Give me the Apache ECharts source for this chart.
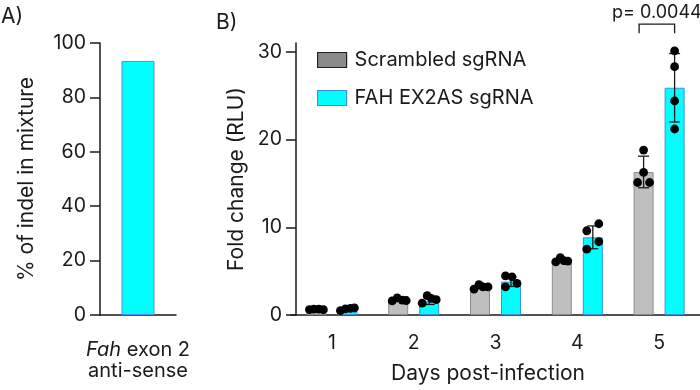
<!DOCTYPE html>
<html><head><meta charset="utf-8">
<script src="https://cdn.jsdelivr.net/npm/echarts@6/dist/echarts.min.js"></script>
<style>html,body{margin:0;padding:0;background:#fff}#c{width:700px;height:390px}</style>
</head><body><div id="c"></div>
<script>
// ---------- data ----------
const panelACategories = ['Fah exon 2 anti-sense'];
const panelAValues = [93.4];
const panelAYTicks = [0, 20, 40, 60, 80, 100];

const days = ['1', '2', '3', '4', '5'];
const panelBYTicks = [0, 10, 20, 30];
const seriesNames = ['Scrambled sgRNA', 'FAH EX2AS sgRNA'];

const scrambledMean = [0.62, 1.7, 3.2, 6.25, 16.3];
const scrambledSD = [0.06, 0.15, 0.2, 0.22, 1.8];
const fahMean = [0.62, 1.55, 3.8, 8.85, 25.9];
const fahSD = [0.12, 0.35, 0.55, 1.3, 3.9];

const scrambledPoints = [
  [0.62, 0.68, 0.66, 0.6],
  [1.6, 1.95, 1.7, 1.65],
  [2.95, 3.45, 3.2, 3.2],
  [6.05, 6.55, 6.2, 6.15],
  [18.8, 16.25, 15.1, 15.1]
];
const fahPoints = [
  [0.5, 0.7, 0.75, 0.8],
  [1.35, 2.2, 1.9, 1.75],
  [3.2, 4.45, 4.35, 3.6],
  [9.6, 10.4, 8.35, 7.5],
  [30.1, 28.3, 24.4, 21.2]
];

const pValueLabel = 'p= 0.0044';
const pValueDay = '5';
const pBracketValue = 33.15;
const pBracketLegValue = 32.1;

// ---------- layout / style ----------
const FONT = 'Inter, "Liberation Sans", Arial, sans-serif';
const INK = '#1a1a1a';
const BAR_W = 20, BAR_GAP = 11;
const OFF = (BAR_W + BAR_GAP) / 2;
const scrambledJitter = [[-7,-2.5,2.5,7],[-6,-1,4,8],[-6,-1,3,8],[-6,-1.5,2,6],[0,0,-6,6]];
const fahJitter = [[-7,-2,3,7],[-7,-2,2,7],[-5.5,-5.5,1,6],[-6,6,6,-6],[0,0,0,0]];

function errorSeries(means, sds, side) {
  return {
    type: 'custom', xAxisIndex: 1, yAxisIndex: 1, z: 4, silent: true, clip: false,
    data: means.map((m, i) => [i, m - sds[i], m + sds[i]]),
    renderItem(params, api) {
      const lo = api.coord([api.value(0), api.value(1)]);
      const hi = api.coord([api.value(0), api.value(2)]);
      const x = lo[0] + side * OFF;
      const cw = 5.5;
      const st = { stroke: INK, lineWidth: 1.3 };
      return { type: 'group', children: [
        { type: 'line', shape: { x1: x, y1: lo[1], x2: x, y2: hi[1] }, style: st },
        { type: 'line', shape: { x1: x - cw, y1: lo[1], x2: x + cw, y2: lo[1] }, style: st },
        { type: 'line', shape: { x1: x - cw, y1: hi[1], x2: x + cw, y2: hi[1] }, style: st }
      ]};
    }
  };
}

function pointSeries(pts, side, jit) {
  const data = [];
  pts.forEach((arr, d) => arr.forEach((v, k) => data.push([d, v, k])));
  return {
    type: 'custom', xAxisIndex: 1, yAxisIndex: 1, z: 5, silent: true, clip: false,
    data,
    renderItem(params, api) {
      const d = api.value(0), k = api.value(2);
      const p = api.coord([d, api.value(1)]);
      return { type: 'circle', shape: { cx: p[0] + side * OFF + jit[d][k], cy: p[1], r: 4.4 }, style: { fill: '#000' } };
    }
  };
}

const axisLineStyle = { color: INK, width: 1.5 };

const option = {
  animation: false,
  backgroundColor: '#fff',
  textStyle: { fontFamily: FONT },
  graphic: [
    { type: 'text', left: 1, top: 6, style: { text: 'A)', fontSize: 21, fontFamily: FONT, fill: INK } },
    { type: 'text', left: 216, top: 12, style: { text: 'B)', fontSize: 21, fontFamily: FONT, fill: INK } }
  ],
  legend: {
    orient: 'vertical', left: 317, top: 50, padding: 0, itemWidth: 29, itemHeight: 15, itemGap: 18,
    icon: 'rect', selectedMode: false,
    textStyle: { fontSize: 20, fontFamily: FONT, color: INK, padding: [0, 0, 0, 3] },
    data: [
      { name: seriesNames[0], itemStyle: { color: '#8a8a8a', borderColor: '#222', borderWidth: 1.2 } },
      { name: seriesNames[1], itemStyle: { color: '#00ffff', borderColor: '#3d8fe0', borderWidth: 1.2 } }
    ]
  },
  grid: [
    { left: 100, top: 43, width: 76, height: 272 },
    { left: 291, top: 43, width: 410, height: 272 }
  ],
  xAxis: [
    {
      type: 'category', gridIndex: 0, data: panelACategories,
      axisLine: { lineStyle: axisLineStyle },
      axisTick: { alignWithLabel: true, length: 10, lineStyle: axisLineStyle },
      axisLabel: {
        margin: 24, color: INK, fontSize: 20, fontFamily: FONT, lineHeight: 21,
        formatter: () => '{i|Fah} exon 2\nanti-sense',
        rich: { i: { fontStyle: 'italic', fontSize: 20, fontFamily: FONT, color: INK } }
      }
    },
    {
      type: 'category', gridIndex: 1, data: days,
      name: 'Days post-infection', nameLocation: 'middle', nameGap: 48,
      nameTextStyle: { fontSize: 21, fontFamily: FONT, color: INK, padding: [0, 15, 0, 0] },
      axisLine: { lineStyle: axisLineStyle },
      axisTick: { alignWithLabel: true, length: 10, lineStyle: axisLineStyle },
      axisLabel: { margin: 18, color: INK, fontSize: 19.5, fontFamily: FONT }
    }
  ],
  yAxis: [
    {
      type: 'value', gridIndex: 0, min: 0, max: 100, interval: 20,
      name: '% of indel in mixture', nameLocation: 'middle', nameGap: 63,
      nameTextStyle: { fontSize: 21, fontFamily: FONT, color: INK },
      axisLine: { show: true, lineStyle: axisLineStyle },
      axisTick: { show: true, length: 10, lineStyle: axisLineStyle, customValues: panelAYTicks },
      axisLabel: { margin: 14, color: INK, fontSize: 19.5, fontFamily: FONT, customValues: panelAYTicks },
      splitLine: { show: false }
    },
    {
      type: 'value', gridIndex: 1, min: 0, max: 31, interval: 10, offset: -5,
      name: 'Fold change (RLU)', nameLocation: 'middle', nameGap: 47,
      nameTextStyle: { fontSize: 21, fontFamily: FONT, color: INK },
      axisLine: { show: true, lineStyle: axisLineStyle },
      axisTick: { show: true, length: 10, lineStyle: axisLineStyle, customValues: panelBYTicks },
      axisLabel: { margin: 14, color: INK, fontSize: 19.5, fontFamily: FONT, customValues: panelBYTicks },
      splitLine: { show: false }
    }
  ],
  series: [
    {
      type: 'bar', xAxisIndex: 0, yAxisIndex: 0, data: panelAValues, barWidth: 33,
      itemStyle: { color: '#00ffff', borderColor: '#4a8ff0', borderWidth: 1 }, silent: true
    },
    {
      type: 'bar', name: seriesNames[0], xAxisIndex: 1, yAxisIndex: 1, data: scrambledMean,
      barWidth: BAR_W, barGap: (BAR_GAP / BAR_W * 100) + '%', z: 2, silent: true,
      itemStyle: { color: '#bfbfbf', borderColor: '#8c8c8c', borderWidth: 1 }
    },
    {
      type: 'bar', name: seriesNames[1], xAxisIndex: 1, yAxisIndex: 1, data: fahMean,
      barWidth: BAR_W, barGap: (BAR_GAP / BAR_W * 100) + '%', z: 2, silent: true,
      itemStyle: { color: '#00ffff', borderColor: '#3d8fe0', borderWidth: 1 }
    },
    errorSeries(scrambledMean, scrambledSD, -1),
    errorSeries(fahMean, fahSD, 1),
    pointSeries(scrambledPoints, -1, scrambledJitter),
    pointSeries(fahPoints, 1, fahJitter),
    {
      type: 'custom', xAxisIndex: 1, yAxisIndex: 1, z: 6, silent: true, clip: false,
      data: [[days.indexOf(pValueDay), pBracketValue, pBracketLegValue]],
      renderItem(params, api) {
        const c = api.coord([api.value(0), api.value(1)]);
        const legY = api.coord([api.value(0), api.value(2)])[1];
        const xl = c[0] - OFF - 4.5, xr = c[0] + OFF;
        return { type: 'group', children: [
          { type: 'polyline', shape: { points: [[xl, legY], [xl, c[1]], [xr, c[1]], [xr, legY]] },
            style: { stroke: INK, lineWidth: 1.3, fill: null } },
          { type: 'text', style: { text: pValueLabel, x: (xl + xr) / 2, y: c[1] - 3, align: 'center',
            verticalAlign: 'bottom', fontSize: 18, fontFamily: FONT, fill: INK } }
        ]};
      }
    }
  ]
};

const chart = echarts.init(document.getElementById('c'), null, { renderer: 'canvas' });
chart.setOption(option);
</script>
</body></html>
